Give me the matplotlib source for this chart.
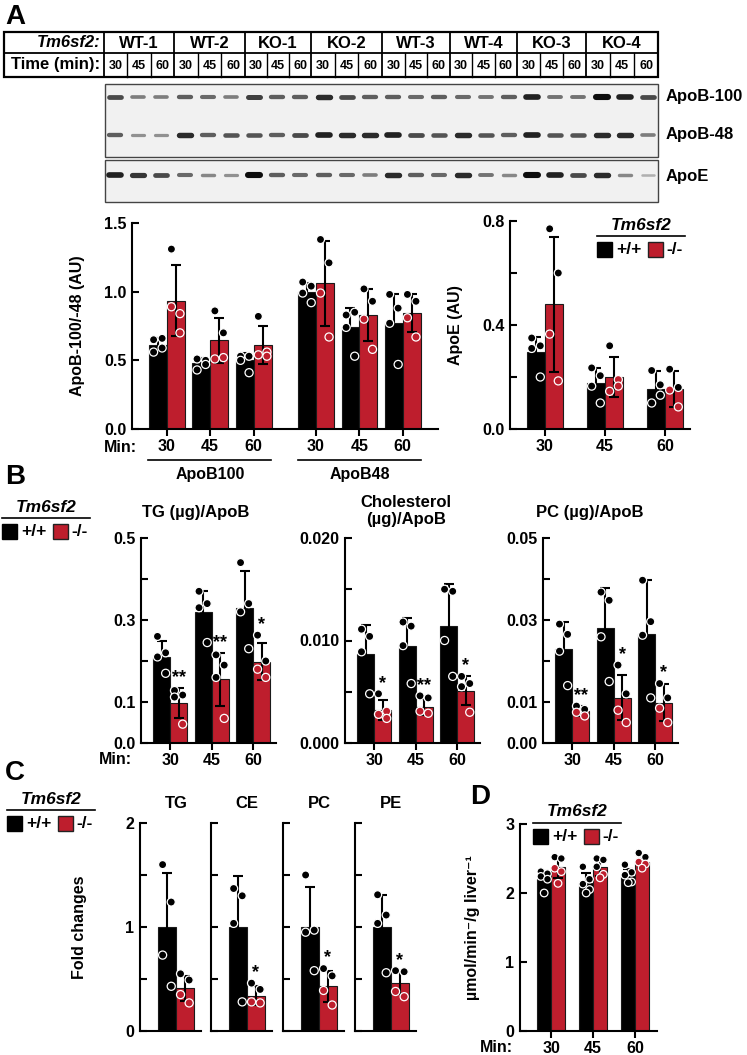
import numpy as np
import matplotlib.pyplot as plt
from matplotlib.patches import Rectangle

plt.rcParams['font.family'] = ['Liberation Sans', 'DejaVu Sans']
plt.rcParams['font.weight'] = 'bold'
plt.rcParams['axes.labelweight'] = 'bold'
plt.rcParams['font.size'] = 11.5

W, H = 747, 1055
RED = '#BE1E2D'

# ---------------- data ----------------
mice = ['WT-1', 'WT-2', 'KO-1', 'KO-2', 'WT-3', 'WT-4', 'KO-3', 'KO-4']
times = ['30', '45', '60']

# western blot band intensity per lane (0 = none, 1 = darkest)
band_apob100 = [0.7, 0.45, 0.45, 0.6, 0.55, 0.45, 0.75, 0.6, 0.6, 0.85, 0.7, 0.6,
                0.6, 0.55, 0.6, 0.55, 0.5, 0.6, 0.9, 0.5, 0.5, 1.0, 0.9, 0.7]
band_apob48 = [0.6, 0.35, 0.35, 0.85, 0.6, 0.65, 0.65, 0.6, 0.7, 0.9, 0.85, 0.85,
               0.9, 0.7, 0.65, 0.85, 0.65, 0.6, 0.9, 0.65, 0.65, 0.85, 0.85, 0.45]
band_apoe = [0.9, 0.8, 0.7, 0.55, 0.4, 0.35, 1.0, 0.6, 0.55, 0.6, 0.55, 0.45,
             0.85, 0.6, 0.55, 0.85, 0.5, 0.4, 1.0, 0.9, 0.7, 0.85, 0.4, 0.2]

# A left: ApoB100 30/45/60 then ApoB48 30/45/60
apob_wt_mean = [0.615, 0.48, 0.50, 1.00, 0.74, 0.77]
apob_wt_sd = [0.05, 0.035, 0.055, 0.06, 0.14, 0.21]
apob_ko_mean = [0.935, 0.645, 0.61, 1.06, 0.83, 0.845]
apob_ko_sd = [0.26, 0.165, 0.14, 0.31, 0.19, 0.14]
apob_wt_pts = [[0.65, 0.66, 0.56, 0.59], [0.51, 0.50, 0.43, 0.47], [0.53, 0.53, 0.50, 0.41],
               [1.07, 1.04, 0.99, 0.92], [0.83, 0.85, 0.74, 0.53], [0.98, 0.88, 0.77, 0.47]]
apob_ko_pts = [[1.31, 0.84, 0.89, 0.70], [0.86, 0.70, 0.51, 0.52], [0.82, 0.56, 0.54, 0.53],
               [1.38, 1.21, 0.99, 0.67], [1.02, 0.93, 0.80, 0.58], [0.98, 0.93, 0.81, 0.67]]

# A right: ApoE
apoe_wt_mean = [0.295, 0.178, 0.155]
apoe_wt_sd = [0.06, 0.055, 0.07]
apoe_ko_mean = [0.48, 0.20, 0.155]
apoe_ko_sd = [0.26, 0.075, 0.07]
apoe_wt_pts = [[0.31, 0.32, 0.35, 0.20], [0.235, 0.205, 0.165, 0.10], [0.225, 0.17, 0.10, 0.13]]
apoe_ko_pts = [[0.77, 0.60, 0.365, 0.185], [0.32, 0.19, 0.145, 0.165], [0.23, 0.16, 0.15, 0.085]]

# B: TG, cholesterol, PC per ApoB
tg_wt_mean = [0.21, 0.32, 0.33]
tg_wt_sd = [0.04, 0.05, 0.09]
tg_ko_mean = [0.098, 0.155, 0.198]
tg_ko_sd = [0.036, 0.065, 0.045]
tg_wt_pts = [[0.26, 0.22, 0.21, 0.17], [0.37, 0.34, 0.33, 0.245], [0.44, 0.34, 0.32, 0.23]]
tg_ko_pts = [[0.128, 0.117, 0.112, 0.046], [0.215, 0.19, 0.16, 0.06], [0.263, 0.2, 0.18, 0.16]]
tg_sig = ['**', '**', '*']

chol_wt_mean = [0.0087, 0.0095, 0.0114]
chol_wt_sd = [0.0028, 0.0027, 0.0041]
chol_ko_mean = [0.0032, 0.0035, 0.0051]
chol_ko_sd = [0.001, 0.0008, 0.0014]
chol_wt_pts = [[0.0111, 0.0104, 0.0089, 0.0048], [0.0118, 0.0114, 0.0095, 0.0058],
               [0.0150, 0.0148, 0.0100, 0.0065]]
chol_ko_pts = [[0.0048, 0.0031, 0.0028, 0.0024], [0.0046, 0.0044, 0.0031, 0.0029],
               [0.0065, 0.0058, 0.0055, 0.0030]]
chol_sig = ['*', '**', '*']

pc_wt_mean = [0.023, 0.028, 0.0265]
pc_wt_sd = [0.0065, 0.0098, 0.0132]
pc_ko_mean = [0.0078, 0.011, 0.0098]
pc_ko_sd = [0.0012, 0.0055, 0.0045]
pc_wt_pts = [[0.029, 0.0265, 0.0224, 0.014], [0.0368, 0.0348, 0.0259, 0.015],
             [0.0397, 0.0296, 0.0263, 0.011]]
pc_ko_pts = [[0.009, 0.0082, 0.0075, 0.0066], [0.019, 0.012, 0.008, 0.005],
             [0.0145, 0.011, 0.0085, 0.005]]
pc_sig = ['**', '*', '*']

# C: fold changes
lipids = ['TG', 'CE', 'PC', 'PE']
fc_wt_mean = [1.0, 1.0, 1.0, 1.0]
fc_wt_sd = [0.52, 0.49, 0.38, 0.31]
fc_ko_mean = [0.41, 0.34, 0.43, 0.465]
fc_ko_sd = [0.12, 0.09, 0.15, 0.11]
fc_wt_pts = [[1.60, 1.24, 0.73, 0.43], [1.37, 1.30, 1.035, 0.28], [1.50, 0.97, 0.95, 0.58],
             [1.31, 1.115, 1.035, 0.56]]
fc_ko_pts = [[0.55, 0.49, 0.35, 0.27], [0.46, 0.40, 0.28, 0.27], [0.60, 0.53, 0.39, 0.25],
             [0.58, 0.57, 0.38, 0.33]]
fc_sig = ['', '*', '*', '*']

# D: secretion rate
rate_wt_mean = [2.2, 2.15, 2.24]
rate_wt_sd = [0.12, 0.14, 0.11]
rate_ko_mean = [2.37, 2.37, 2.45]
rate_ko_sd = [0.15, 0.12, 0.09]
rate_wt_pts = [[2.31, 2.28, 2.24, 2.2, 2.0], [2.38, 2.2, 2.13, 2.05, 2.0], [2.41, 2.3, 2.26, 2.16, 2.15]]
rate_ko_pts = [[2.52, 2.5, 2.36, 2.31, 2.14], [2.5, 2.48, 2.38, 2.27, 2.22], [2.58, 2.52, 2.45, 2.42, 2.36]]

# ---------------- helpers ----------------
fig = plt.figure(figsize=(W / 100, H / 100), dpi=100)
ov = fig.add_axes([0, 0, 1, 1])
ov.set_xlim(0, W)
ov.set_ylim(H, 0)
ov.axis('off')


def px_axes(x0, y0, x1, y1):
    ax = fig.add_axes([x0 / W, 1 - y1 / H, (x1 - x0) / W, (y1 - y0) / H])
    ax.patch.set_alpha(0)
    for s in ['top', 'right']:
        ax.spines[s].set_visible(False)
    for s in ['left', 'bottom']:
        ax.spines[s].set_linewidth(1.5)
    ax.tick_params(axis='y', direction='in', length=5, width=1.5, pad=4, labelsize=11.5)
    ax.tick_params(axis='x', direction='out', length=5, width=1.5, pad=2.5, labelsize=11.5)
    return ax


def bars(ax, pos, wt_mean, wt_sd, ko_mean, ko_sd, wt_pts, ko_pts, bw, sig=None, ms=34):
    pos = np.asarray(pos, float)
    for off, mean, sd, pts, col in [(-bw / 2, wt_mean, wt_sd, wt_pts, 'black'),
                                    (bw / 2, ko_mean, ko_sd, ko_pts, RED)]:
        x = pos + off
        ax.bar(x, mean, width=bw, color=col, edgecolor='#1a1a1a', linewidth=0.8, zorder=1)
        ax.errorbar(x, mean, yerr=sd, fmt='none', ecolor='black', elinewidth=1.5,
                    capsize=3.5, capthick=1.5, zorder=2)
        for xi, m, p in zip(x, mean, pts):
            offs = np.array([-0.24, 0.24, -0.24, 0.24, 0.0])[:len(p)] * bw
            fcs = ['black' if v > m else col for v in p]
            ax.scatter(xi + offs, p, s=ms, c=fcs, edgecolors='white', linewidths=0.9,
                       zorder=3, clip_on=False)
    if sig:
        for xi, m, sd, p, s in zip(pos + bw / 2, ko_mean, ko_sd, ko_pts, sig):
            if s:
                top = max(m + sd, max(p))
                ax.annotate(s, (xi, top), xytext=(0, 1.5), textcoords='offset points',
                            ha='center', va='bottom', fontsize=13)


def yticks(ax, vals, labels):
    ax.set_yticks(vals)
    ax.set_yticklabels(labels)


def legend(x, y):
    ov.text(x + 44, y - 11, 'Tm6sf2', ha='center', va='center', fontsize=12.5, style='italic')
    ov.plot([x, x + 88], [y, y], color='black', lw=1.2)
    ov.add_patch(Rectangle((x, y + 6), 15, 15, facecolor='black', edgecolor='black'))
    ov.text(x + 19, y + 13.5, '+/+', ha='left', va='center', fontsize=12.5)
    ov.add_patch(Rectangle((x + 51, y + 6), 15, 15, facecolor=RED, edgecolor='#222', lw=1))
    ov.text(x + 69, y + 13.5, '-/-', ha='left', va='center', fontsize=12.5)


# ---------------- panel A: table + blots ----------------
for lab, (x, y) in zip('ABCD', [(5, 17), (5, 477), (5, 773), (470, 797)]):
    ov.text(x, y, lab, ha='left', va='center', fontsize=20, fontweight='bold')

tx0, tx1, ty0, ty1, ty2 = 4, 658, 32, 53, 77
edges = [104, 174, 245, 311, 382, 450, 517, 586, 658]
ov.add_patch(Rectangle((tx0, ty0), tx1 - tx0, ty2 - ty0, fill=False, lw=1.6, edgecolor='black'))
ov.plot([tx0, tx1], [ty1, ty1], color='black', lw=1.3)
ov.text(100, (ty0 + ty1) / 2, 'Tm6sf2:', ha='right', va='center', fontsize=12, style='italic')
ov.text(100, (ty1 + ty2) / 2, 'Time (min):', ha='right', va='center', fontsize=12)
for i, name in enumerate(mice):
    a, b = edges[i], edges[i + 1]
    ov.plot([a, a], [ty0, ty2], color='black', lw=1.3)
    ov.text((a + b) / 2, (ty0 + ty1) / 2 + 1, name, ha='center', va='center', fontsize=12)
    sub = np.linspace(a, b, 4)
    for j, t in enumerate(times):
        if j > 0:
            ov.plot([sub[j], sub[j]], [ty1, ty2], color='black', lw=1)
        ov.text((sub[j] + sub[j + 1]) / 2, (ty1 + ty2) / 2 + 1, t, ha='center', va='center', fontsize=9)

ov.add_patch(Rectangle((105, 84), 553, 73, facecolor='#f1f1f1', edgecolor='#444', lw=1))
ov.add_patch(Rectangle((105, 160), 553, 42, facecolor='#f1f1f1', edgecolor='#444', lw=1))
lane_x = np.linspace(115, 648, len(band_apoe))
for yy, arr in [(97, band_apob100), (135, band_apob48), (175, band_apoe)]:
    for xx, v in zip(lane_x, arr):
        ov.plot([xx - 6, xx + 6], [yy, yy], color=str(round(0.85 - 0.8 * v, 3)),
                lw=1.2 + 3.2 * v, solid_capstyle='round')
ov.text(666, 97, 'ApoB-100', ha='left', va='center', fontsize=12)
ov.text(666, 135, 'ApoB-48', ha='left', va='center', fontsize=12)
ov.text(666, 177, 'ApoE', ha='left', va='center', fontsize=12)

# ---------------- panel A: ApoB bars ----------------
ax = px_axes(132, 223, 438, 429)
posA = [0, 1, 2, 3.43, 4.43, 5.43]
bars(ax, posA, apob_wt_mean, apob_wt_sd, apob_ko_mean, apob_ko_sd, apob_wt_pts, apob_ko_pts, 0.41)
ax.set_xlim(-0.8, 6.24)
ax.set_ylim(0, 1.5)
yticks(ax, [0, 0.5, 1.0, 1.5], ['0.0', '0.5', '1.0', '1.5'])
ax.set_xticks(posA)
ax.set_xticklabels(times * 2)
ax.set_ylabel('ApoB-100/-48 (AU)')
ax.yaxis.set_label_coords((85 - 132) / 306, 0.5)
ov.text(137, 448, 'Min:', ha='right', va='center')
ov.plot([148, 271], [460, 460], color='black', lw=1.2)
ov.plot([298, 421], [460, 460], color='black', lw=1.2)
ov.text(210, 474, 'ApoB100', ha='center', va='center')
ov.text(360, 474, 'ApoB48', ha='center', va='center')

# ApoE
ax = px_axes(510, 221, 690, 429)
bars(ax, [0, 1, 2], apoe_wt_mean, apoe_wt_sd, apoe_ko_mean, apoe_ko_sd, apoe_wt_pts, apoe_ko_pts, 0.3)
ax.set_xlim(-0.583, 2.417)
ax.set_ylim(0, 0.8)
yticks(ax, [0, 0.2, 0.4, 0.6, 0.8], ['0.0', '', '0.4', '', '0.8'])
ax.set_xticks([0, 1, 2])
ax.set_xticklabels(times)
ax.set_ylabel('ApoE (AU)')
ax.yaxis.set_label_coords((463 - 510) / 180, 0.5)
legend(597, 236)

# ---------------- panel B ----------------
legend(2, 518)
b_specs = [
    (141, 196, 'TG (µg)/ApoB', 0.5, [0, 0.1, 0.2, 0.3, 0.4, 0.5], ['0.0', '0.1', '', '0.3', '', '0.5'],
     tg_wt_mean, tg_wt_sd, tg_ko_mean, tg_ko_sd, tg_wt_pts, tg_ko_pts, tg_sig),
    (345, 406, 'Cholesterol\n(µg)/ApoB', 0.02, [0, 0.005, 0.01, 0.015, 0.02], ['0.000', '', '0.010', '', '0.020'],
     chol_wt_mean, chol_wt_sd, chol_ko_mean, chol_ko_sd, chol_wt_pts, chol_ko_pts, chol_sig),
    (543, 590, 'PC (µg)/ApoB', 0.05, [0, 0.01, 0.02, 0.03, 0.04, 0.05], ['0.00', '0.01', '', '0.03', '', '0.05'],
     pc_wt_mean, pc_wt_sd, pc_ko_mean, pc_ko_sd, pc_wt_pts, pc_ko_pts, pc_sig),
]
for x0, tx, title, ymax, tv, tl, wm, ws, km, ks, wp, kp, sg in b_specs:
    ax = px_axes(x0, 538, x0 + 135, 743)
    bars(ax, [0, 1, 2], wm, ws, km, ks, wp, kp, 0.41, sig=sg)
    ax.set_xlim(-0.7, 2.55)
    ax.set_ylim(0, ymax)
    yticks(ax, tv, tl)
    ax.set_xticks([0, 1, 2])
    ax.set_xticklabels(times)
    cy = 511 if '\n' in title else 513
    ov.text(tx, cy, title, ha='center', va='center', fontsize=12, linespacing=1.1)
ov.text(132, 759, 'Min:', ha='right', va='center')

# ---------------- panel C ----------------
legend(7, 810)
for i, (x0, name) in enumerate(zip([140, 211, 283, 355], lipids)):
    ax = px_axes(x0, 823, x0 + 61, 1031)
    bars(ax, [0], [fc_wt_mean[i]], [fc_wt_sd[i]], [fc_ko_mean[i]], [fc_ko_sd[i]],
         [fc_wt_pts[i]], [fc_ko_pts[i]], 1.0, sig=[fc_sig[i]])
    ax.set_xlim(-2.0, 1.4)
    ax.set_ylim(0, 2)
    ax.set_xticks([])
    if i == 0:
        yticks(ax, [0, 0.5, 1, 1.5, 2], ['0', '', '1', '', '2'])
        ax.set_ylabel('Fold changes')
        ax.yaxis.set_label_coords((87 - 140) / 61, 0.5)
    else:
        yticks(ax, [0, 0.5, 1, 1.5, 2], [''] * 5)
    ov.text(x0 + 36, 803, name, ha='center', va='center', fontsize=12)

# ---------------- panel D ----------------
ax = px_axes(520, 824, 657, 1031)
bars(ax, [0, 1, 2], rate_wt_mean, rate_wt_sd, rate_ko_mean, rate_ko_sd, rate_wt_pts, rate_ko_pts, 0.33, ms=30)
ax.set_xlim(-0.74, 2.52)
ax.set_ylim(0, 3)
yticks(ax, [0, 1, 2, 3], ['0', '1', '2', '3'])
ax.set_xticks([0, 1, 2])
ax.set_xticklabels(times)
ax.set_ylabel('µmol/min⁻/g liver⁻¹')
ax.yaxis.set_label_coords((480 - 520) / 137, 0.5)
legend(533, 823)
ov.text(513, 1047, 'Min:', ha='right', va='center')

fig.savefig('out.png', dpi=100)
